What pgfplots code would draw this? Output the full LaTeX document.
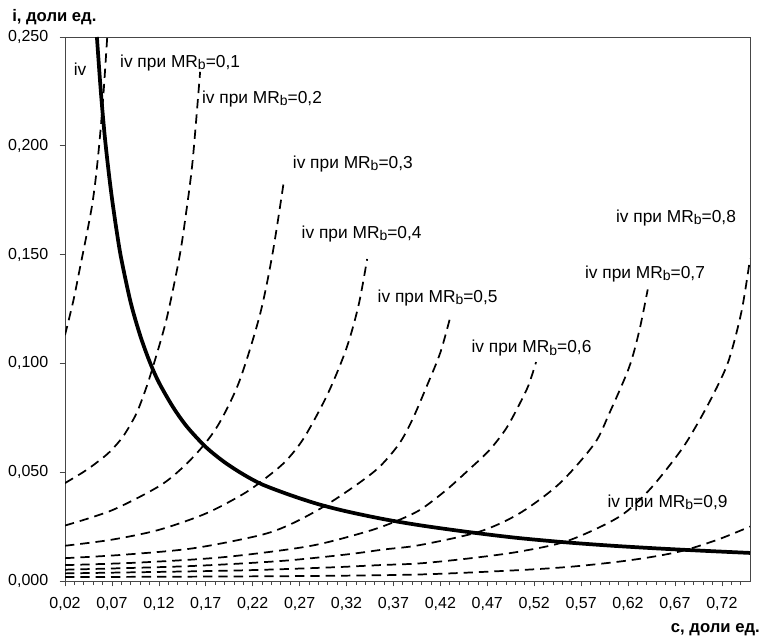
\documentclass[border=0pt]{standalone}
\usepackage{fontspec}
\setmainfont{Liberation Sans}
\usepackage{pgfplots}
\pgfplotsset{compat=1.18}
\newcommand{\lab}[1]{iv при MR\raisebox{-0.25ex}{\fontsize{10.5}{11}\selectfont b}=0,#1}
\begin{document}
\begin{tikzpicture}[x=1pt,y=1pt]
\path[use as bounding box] (0,0) rectangle (571.5,482.25);
\begin{axis}[
  at={(48.75pt,46.5pt)}, anchor=south west,
  scale only axis, width=513.75pt, height=408pt,
  xmin=0.02, xmax=0.75, ymin=0, ymax=0.25,
  axis line style={gray!55!black, line width=0.6pt},
  xtick={0.02,0.07,0.12,0.17,0.22,0.27,0.32,0.37,0.42,0.47,0.52,0.57,0.62,0.67,0.72},
  minor xtick={0.03,0.04,0.05,0.06,0.08,0.09,0.10,0.11,0.13,0.14,0.15,0.16,0.18,0.19,0.20,0.21,0.23,0.24,0.25,0.26,0.28,0.29,0.30,0.31,0.33,0.34,0.35,0.36,0.38,0.39,0.40,0.41,0.43,0.44,0.45,0.46,0.48,0.49,0.50,0.51,0.53,0.54,0.55,0.56,0.58,0.59,0.60,0.61,0.63,0.64,0.65,0.66,0.68,0.69,0.70,0.71,0.73,0.74},
  ytick={0,0.05,0.1,0.15,0.2,0.25},
  scaled x ticks=false, scaled y ticks=false,
  tick align=outside, xtick pos=bottom, ytick pos=left,
  major tick length=4pt, minor tick length=3pt,
  tick style={gray!55!black, line width=0.5pt},
  xticklabel style={/pgf/number format/fixed, /pgf/number format/fixed zerofill, /pgf/number format/precision=2, /pgf/number format/use comma, /pgf/number format/assume math mode=true, yshift=-5pt},
  yticklabel style={/pgf/number format/fixed, /pgf/number format/fixed zerofill, /pgf/number format/precision=3, /pgf/number format/use comma, /pgf/number format/assume math mode=true, xshift=-5pt},
  ticklabel style={font=\fontsize{12}{14}\selectfont},
]
% solid curve iv
\addplot[black, line width=2.8pt, smooth] coordinates {
(0.054,0.250)(0.058,0.226)(0.062,0.206)(0.066,0.190)(0.070,0.176)(0.075,0.161)(0.080,0.148)(0.090,0.128)(0.100,0.113)(0.110,0.101)(0.120,0.0913)(0.135,0.080)(0.150,0.0709)(0.170,0.0616)(0.190,0.0546)(0.210,0.0490)(0.230,0.0444)(0.260,0.0395)(0.290,0.0353)(0.320,0.0320)(0.360,0.0284)(0.400,0.0255)(0.450,0.0225)(0.500,0.0199)(0.550,0.0179)(0.600,0.0163)(0.650,0.0150)(0.700,0.0139)(0.750,0.0129)};
% MRb = 0,1
\addplot[black, line width=1.3pt, dash pattern=on 7pt off 4.5pt, smooth] coordinates {
(0.020,0.113)(0.029,0.129)(0.036,0.144)(0.043,0.159)(0.049,0.173)(0.053,0.186)(0.057,0.203)(0.061,0.224)(0.065,0.250)};
% MRb = 0,2
\addplot[black, line width=1.3pt, dash pattern=on 7pt off 4.5pt, smooth] coordinates {
(0.020,0.045)(0.040,0.0502)(0.054,0.0545)(0.068,0.0595)(0.082,0.0665)(0.095,0.0760)(0.103,0.0845)(0.112,0.0960)(0.128,0.120)(0.142,0.149)(0.149,0.169)(0.156,0.193)(0.164,0.234)};
% MRb = 0,3
\addplot[black, line width=1.3pt, dash pattern=on 7pt off 4.5pt, smooth] coordinates {
(0.020,0.0255)(0.070,0.0325)(0.120,0.0435)(0.145,0.052)(0.167,0.062)(0.185,0.073)(0.206,0.092)(0.2275,0.122)(0.241,0.150)(0.253,0.183)};
% MRb = 0,4
\addplot[black, line width=1.3pt, dash pattern=on 7pt off 4.5pt, smooth] coordinates {
(0.020,0.0162)(0.070,0.019)(0.120,0.0235)(0.170,0.031)(0.210,0.040)(0.233,0.047)(0.255,0.055)(0.275,0.066)(0.300,0.086)(0.320,0.107)(0.333,0.127)(0.342,0.148)};
% MRb = 0,5
\addplot[black, line width=1.3pt, dash pattern=on 7pt off 4.5pt, smooth] coordinates {
(0.020,0.0105)(0.080,0.012)(0.156,0.015)(0.2275,0.021)(0.260,0.026)(0.295,0.034)(0.330,0.044)(0.355,0.0524)(0.376,0.063)(0.390,0.074)(0.405,0.089)(0.420,0.105)(0.431,0.122)};
% MRb = 0,6
\addplot[black, line width=1.3pt, dash pattern=on 7pt off 4.5pt, smooth] coordinates {
(0.020,0.0073)(0.100,0.0085)(0.190,0.011)(0.280,0.016)(0.340,0.0225)(0.370,0.027)(0.398,0.0326)(0.426,0.0417)(0.450,0.051)(0.472,0.060)(0.490,0.070)(0.504,0.081)(0.514,0.090)(0.522,0.1006)};
% MRb = 0,7
\addplot[black, line width=1.3pt, dash pattern=on 7pt off 4.5pt, smooth] coordinates {
(0.020,0.0052)(0.150,0.0068)(0.250,0.0092)(0.320,0.0122)(0.360,0.0145)(0.398,0.0165)(0.461,0.0226)(0.504,0.031)(0.547,0.0448)(0.584,0.063)(0.600,0.077)(0.621,0.098)(0.632,0.115)(0.641,0.134)};
% MRb = 0,8
\addplot[black, line width=1.3pt, dash pattern=on 7pt off 4.5pt, smooth] coordinates {
(0.020,0.0035)(0.200,0.0048)(0.300,0.0062)(0.355,0.0073)(0.398,0.0081)(0.451,0.0104)(0.504,0.0135)(0.556,0.0185)(0.6105,0.0295)(0.643,0.042)(0.6755,0.0595)(0.692,0.0708)(0.710,0.085)(0.727,0.101)(0.741,0.124)(0.750,0.148)};
% MRb = 0,9
\addplot[black, line width=1.3pt, dash pattern=on 7pt off 4.5pt, smooth] coordinates {
(0.020,0.0018)(0.150,0.0020)(0.280,0.0023)(0.398,0.0030)(0.504,0.0050)(0.560,0.0066)(0.6105,0.0089)(0.650,0.0114)(0.681,0.0142)(0.7168,0.0192)(0.750,0.025)};
\begin{scope}[every node/.style={font=\fontsize{13}{15}\selectfont, inner sep=0pt}]
\node[anchor=center] at (axis cs:0.036,0.235) {iv};
\node[anchor=west] at (axis cs:0.0785,0.238) {\lab{1}};
\node[anchor=west] at (axis cs:0.1658,0.2216) {\lab{2}};
\node[anchor=west] at (axis cs:0.2626,0.1917) {\lab{3}};
\node[anchor=west] at (axis cs:0.272,0.1596) {\lab{4}};
\node[anchor=west] at (axis cs:0.353,0.130) {\lab{5}};
\node[anchor=west] at (axis cs:0.453,0.1069) {\lab{6}};
\node[anchor=west] at (axis cs:0.574,0.1413) {\lab{7}};
\node[anchor=west] at (axis cs:0.607,0.167) {\lab{8}};
\node[anchor=west] at (axis cs:0.598,0.0358) {\lab{9}};
\end{scope}
\end{axis}
\node[anchor=west, font=\bfseries\fontsize{12.5}{14}\selectfont, inner sep=0pt] at (9,469.5) {i, доли ед.};
\node[anchor=east, font=\bfseries\fontsize{12.5}{14}\selectfont, inner sep=0pt] at (570,9.75) {c, доли ед.};
\end{tikzpicture}
\end{document}
